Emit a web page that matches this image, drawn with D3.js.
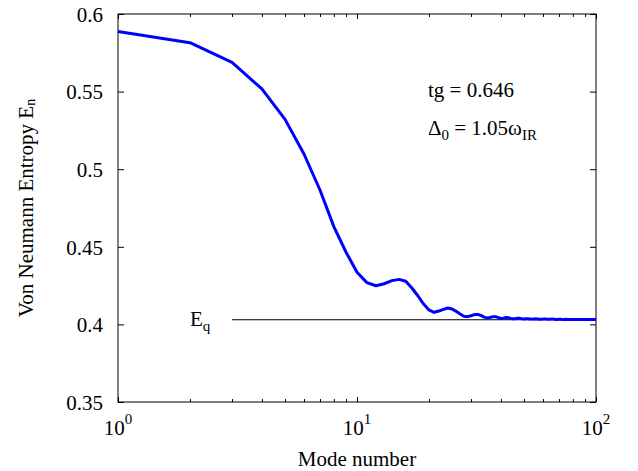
<!DOCTYPE html>
<html>
<head>
<meta charset="utf-8">
<script src="https://cdn.jsdelivr.net/npm/d3@7"></script>
<style>
  body { margin: 0; background: #fff; }
  svg text { font-family: "Liberation Serif", "Times New Roman", serif; fill: #000; }
</style>
</head>
<body>
<div id="chart"></div>
<script>
// mode numbers and entropy values
const modes = d3.range(1, 101);
const entropy = [
  0.5887, 0.5815, 0.5689, 0.5517, 0.5321, 0.5098, 0.4866, 0.4630, 0.4465, 0.4336,
  0.4269, 0.4249, 0.4262, 0.4282, 0.4290, 0.4278, 0.4233, 0.4183, 0.4131, 0.4093,
  0.4078, 0.4086, 0.4097, 0.4106, 0.4099, 0.4084, 0.4067, 0.4052, 0.4050, 0.4056,
  0.4063, 0.4064, 0.4058, 0.4047, 0.4042, 0.4044, 0.4050, 0.4050, 0.4044, 0.4038,
  0.4040, 0.4044, 0.4043, 0.4039, 0.4036, 0.4037, 0.4040, 0.4039, 0.4036, 0.4035,
  0.4036, 0.4036, 0.4034, 0.4034, 0.4035, 0.4036, 0.4035, 0.4033, 0.4033, 0.4034,
  0.4034, 0.4034, 0.4033, 0.4033, 0.4034, 0.4034, 0.4033, 0.4032, 0.4032, 0.4033,
  0.4033, 0.4032, 0.4032, 0.4032, 0.4033, 0.4032, 0.4032, 0.4032, 0.4032, 0.4032,
  0.4032, 0.4032, 0.4032, 0.4032, 0.4032, 0.4032, 0.4032, 0.4032, 0.4032, 0.4032,
  0.4032, 0.4032, 0.4032, 0.4032, 0.4032, 0.4032, 0.4032, 0.4032, 0.4032, 0.4032
];
const eqValue = 0.4030;
const eqStart = 3;
const yTicks = [0.35, 0.4, 0.45, 0.5, 0.55, 0.6];
const yTickLabels = ["0.35", "0.4", "0.45", "0.5", "0.55", "0.6"];
const xMajor = [1, 10, 100];
const xExponents = ["0", "1", "2"];
const xMinor = [2, 3, 4, 5, 6, 7, 8, 9, 20, 30, 40, 50, 60, 70, 80, 90];

const FONT = "'Liberation Serif', 'Times New Roman', serif";

const W = 638, H = 471;
const margin = { top: 14, right: 42, bottom: 69, left: 118 };
const width = W - margin.left - margin.right;
const height = H - margin.top - margin.bottom;

const svg = d3.select("#chart").append("svg")
    .attr("width", W)
    .attr("height", H)
    .attr("font-family", FONT);

const g = svg.append("g")
    .attr("transform", `translate(${margin.left},${margin.top})`);

const x = d3.scaleLog().domain([1, 100]).range([0, width]);
const y = d3.scaleLinear().domain([0.35, 0.6]).range([height, 0]);

// frame
g.append("rect")
    .attr("width", width)
    .attr("height", height)
    .attr("fill", "none")
    .attr("stroke", "#000")
    .attr("stroke-width", 1);

// ticks, all pointing inward
function cleanAxis(sel) {
    sel.attr("font-family", FONT).attr("font-size", 21);
    sel.select(".domain").remove();
    sel.selectAll(".tick line").attr("stroke", "#000");
}

g.append("g").attr("transform", `translate(0,${height})`)
    .call(d3.axisBottom(x).tickValues(xMajor).tickSize(-5).tickFormat(""))
    .call(cleanAxis);
g.append("g").attr("transform", `translate(0,${height})`)
    .call(d3.axisBottom(x).tickValues(xMinor).tickSize(-3).tickFormat(""))
    .call(cleanAxis);
g.append("g")
    .call(d3.axisTop(x).tickValues(xMajor).tickSize(-5).tickFormat(""))
    .call(cleanAxis);
g.append("g")
    .call(d3.axisTop(x).tickValues(xMinor).tickSize(-3).tickFormat(""))
    .call(cleanAxis);

const yAxis = g.append("g")
    .call(d3.axisLeft(y).tickValues(yTicks).tickSize(-6).tickPadding(15)
        .tickFormat((d, i) => yTickLabels[i]))
    .call(cleanAxis);
yAxis.selectAll(".tick text")
    .attr("fill", "#000")
    .attr("dy", "0.35em");

g.append("g").attr("transform", `translate(${width},0)`)
    .call(d3.axisRight(y).tickValues(yTicks).tickSize(-6).tickFormat(""))
    .call(cleanAxis);

// x tick labels with superscript exponents
const xl = g.append("g").selectAll("text")
    .data(xMajor)
    .enter().append("text")
    .attr("x", d => x(d))
    .attr("y", height + 33)
    .attr("text-anchor", "middle")
    .style("font-size", "21px");
xl.append("tspan").text("10");
xl.append("tspan")
    .attr("dy", -11)
    .style("font-size", "15px")
    .text((d, i) => xExponents[i]);

// Eq reference line
g.append("line")
    .attr("x1", x(eqStart))
    .attr("x2", width)
    .attr("y1", y(eqValue))
    .attr("y2", y(eqValue))
    .attr("stroke", "#000")
    .attr("stroke-width", 1);

const eqLabel = g.append("text")
    .attr("x", x(2))
    .attr("y", y(eqValue) + 6)
    .style("font-size", "21px");
eqLabel.append("tspan").text("E");
eqLabel.append("tspan").attr("dy", 5).style("font-size", "15px").text("q");

// entropy curve
const line = d3.line()
    .x((d, i) => x(modes[i]))
    .y(d => y(d));

g.append("path")
    .datum(entropy)
    .attr("d", line)
    .attr("fill", "none")
    .attr("stroke", "#0000ff")
    .attr("stroke-width", 3)
    .attr("stroke-linejoin", "round");

// annotations
g.append("text")
    .attr("x", 310)
    .attr("y", 83)
    .style("font-size", "21px")
    .text("tg = 0.646");

const delta = g.append("text")
    .attr("x", 310)
    .attr("y", 121)
    .style("font-size", "21px");
delta.append("tspan").text("\u0394");
delta.append("tspan").attr("dy", 5).style("font-size", "15px").text("0");
delta.append("tspan").attr("dy", -5).text(" = 1.05\u03c9");
delta.append("tspan").attr("dy", 5).style("font-size", "15px").text("IR");

// axis titles
svg.append("text")
    .attr("x", margin.left + width / 2)
    .attr("y", 466)
    .attr("text-anchor", "middle")
    .style("font-size", "21px")
    .text("Mode number");

const yTitle = svg.append("text")
    .attr("transform", `translate(33,${margin.top + height / 2}) rotate(-90)`)
    .attr("text-anchor", "middle")
    .style("font-size", "21px");
yTitle.append("tspan").text("Von Neumann Entropy E");
yTitle.append("tspan").attr("dy", 2).style("font-size", "14px").text("n");
</script>
</body>
</html>
